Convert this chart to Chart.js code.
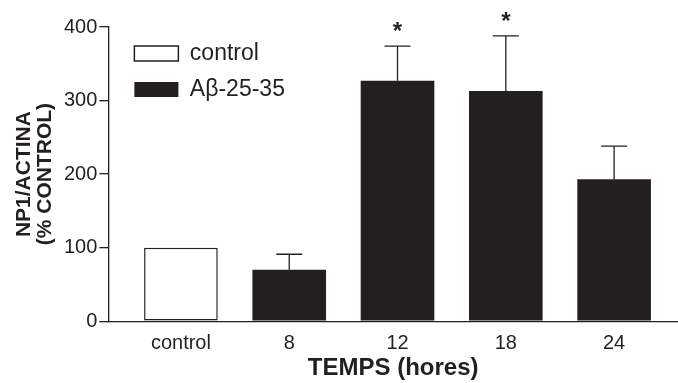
<!DOCTYPE html>
<html>
<head>
<meta charset="utf-8">
<script src="https://cdn.jsdelivr.net/npm/chart.js@4"></script>
<style>
  html, body { margin: 0; padding: 0; background: #fff; }
  #wrap { width: 678px; height: 383px; }
</style>
</head>
<body>
<div id="wrap"><canvas id="chart"></canvas></div>
<script>
// ===== DATA =====
const categories = ['control', '8', '12', '18', '24'];
const means = [100, 70, 327, 313, 193];
const sems = [0, 21, 47, 75, 45];
const signif = ['', '', '*', '*', ''];
const yTicks = [0, 100, 200, 300, 400];
const seriesNames = ['control', 'A\u03b2-25-35'];

const ink = '#231f20';
const font = "'Liberation Sans', Arial, sans-serif";

// control = first column, Aβ = the time points
const controlData = [{ x: 0, y: means[0] }];
const abData = means.slice(1).map((v, i) => ({ x: i + 1, y: v }));

// ===== ERROR BARS + STARS =====
const errorBars = {
  id: 'errorBars',
  afterDatasetsDraw(chart) {
    const { ctx, scales: { y } } = chart;
    ctx.save();
    ctx.strokeStyle = ink;
    ctx.fillStyle = ink;
    ctx.lineWidth = 1.3;
    chart.data.datasets.forEach((ds, di) => {
      chart.getDatasetMeta(di).data.forEach((bar, j) => {
        const idx = ds.data[j].x;
        const err = sems[idx];
        const top = y.getPixelForValue(means[idx] + err);
        if (err > 0) {
          ctx.beginPath();
          ctx.moveTo(bar.x, bar.y);
          ctx.lineTo(bar.x, top);
          ctx.moveTo(bar.x - 13, top);
          ctx.lineTo(bar.x + 13, top);
          ctx.stroke();
        }
        if (signif[idx]) {
          ctx.font = `bold 24px ${font}`;
          ctx.textAlign = 'center';
          ctx.textBaseline = 'alphabetic';
          ctx.fillText(signif[idx], bar.x, top - 7);
        }
      });
    });
    ctx.restore();
  }
};

// nudge the in-plot legend away from the axes
const legendNudge = {
  id: 'legendNudge',
  beforeDraw(chart) {
    if (!chart.legend) return;
    chart.legend.left = chart.chartArea.left + 13;
    chart.legend.top = chart.chartArea.top + 2;
  }
};

new Chart(document.getElementById('chart'), {
  type: 'bar',
  data: {
    datasets: [
      {
        label: seriesNames[0],
        data: controlData,
        backgroundColor: '#ffffff',
        borderColor: ink,
        borderWidth: 1.5,
        borderSkipped: false,
      },
      {
        label: seriesNames[1],
        data: abData,
        backgroundColor: ink,
        borderColor: ink,
        borderWidth: 0,
      }
    ]
  },
  options: {
    responsive: true,
    maintainAspectRatio: false,
    animation: false,
    grouped: false,
    barPercentage: 0.68,
    categoryPercentage: 1,
    layout: { padding: { top: 27, left: 10, right: 0, bottom: 0 } },
    plugins: {
      legend: {
        position: 'chartArea',
        align: 'start',
        labels: {
          color: ink,
          font: { family: font, size: 23 },
          boxWidth: 44,
          boxHeight: 15,
          padding: 13,
        }
      },
      tooltip: { enabled: false }
    },
    scales: {
      x: {
        type: 'linear',
        offset: false,
        min: -0.67,
        max: 4.59,
        afterBuildTicks: scale => { scale.ticks = categories.map((c, i) => ({ value: i })); },
        grid: { display: false, drawTicks: false },
        border: { color: ink, width: 1.3 },
        ticks: {
          color: ink,
          font: { family: font, size: 20 },
          padding: 10,
          callback: v => categories[v],
        },
        title: {
          display: true,
          text: 'TEMPS (hores)',
          color: ink,
          font: { family: font, size: 24, weight: 'bold' },
          padding: { top: -11, bottom: 0 },
        }
      },
      y: {
        min: 0,
        max: 400,
        afterBuildTicks: scale => { scale.ticks = yTicks.map(v => ({ value: v })); },
        grid: { drawOnChartArea: false, drawTicks: true, tickLength: 9, color: ink, lineWidth: 1.3 },
        border: { color: ink, width: 1.3 },
        ticks: {
          color: ink,
          font: { family: font, size: 20 },
          padding: 2,
        },
        title: {
          display: true,
          text: ['NP1/ACTINA', '(% CONTROL)'],
          color: ink,
          font: { family: font, size: 21, weight: 'bold', lineHeight: 1.0 },
          padding: { top: 4, bottom: 6 },
        }
      }
    }
  },
  plugins: [errorBars, legendNudge]
});
</script>
</body>
</html>
